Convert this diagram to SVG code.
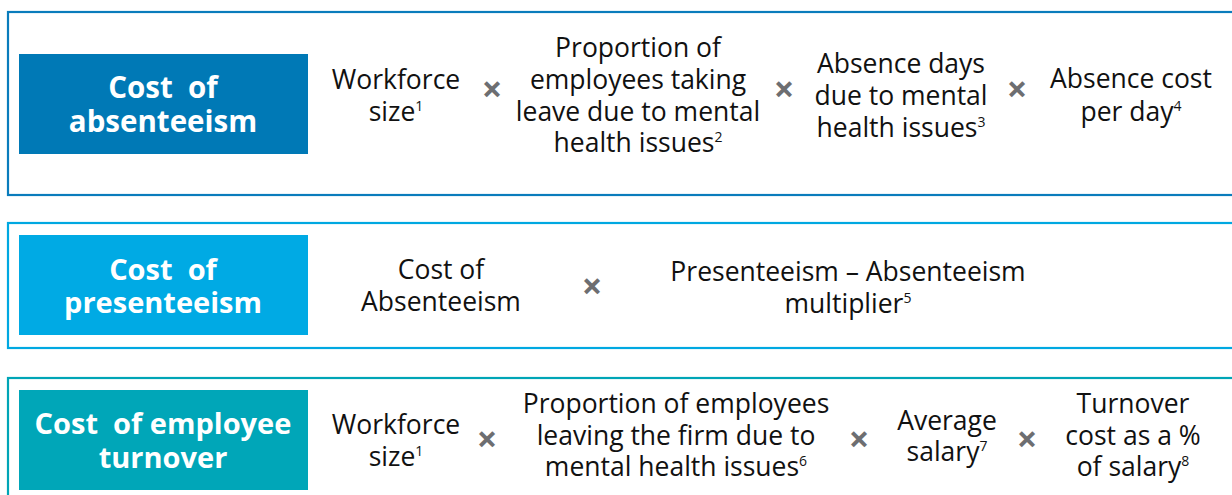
<svg xmlns="http://www.w3.org/2000/svg" width="1232" height="495" viewBox="0 0 1232 495">
<style>
.bg{fill:#ffffff}
.frame{fill:#ffffff;stroke-width:2.2}
.lbl{font-family:"Open Sans","Liberation Sans",sans-serif;font-weight:700;font-size:29.5px;fill:#ffffff;text-anchor:middle}
.lbl2{font-family:"Open Sans","Liberation Sans",sans-serif;font-weight:700;font-size:29px;fill:#ffffff;text-anchor:middle}
.t{font-family:"Open Sans","Liberation Sans",sans-serif;font-size:26.5px;fill:#111111;text-anchor:middle}
.tc{font-family:"Open Sans","Liberation Sans",sans-serif;font-size:26.5px;fill:#111111;text-anchor:middle}
.sup{font-size:14px}
.x{font-family:"Open Sans","Liberation Sans",sans-serif;font-weight:700;font-size:36px;fill:#6d6e71;text-anchor:middle}
</style>
<rect class="bg" x="0" y="0" width="1232" height="495"/>

<g id="absenteeism">
  <rect class="frame" x="8" y="12" width="1240" height="183" stroke="#0a7cbc"/>
  <rect x="19" y="54" width="289" height="100" fill="#0079b6"/>
  <text class="lbl" x="163" y="98" xml:space="preserve">Cost  of</text>
  <text class="lbl" x="163" y="132">absenteeism</text>
  <text class="t" x="396" y="89">Workforce</text>
  <text class="t" x="396" y="121">size<tspan class="sup" dy="-10">1</tspan></text>
  <text class="x" x="492" y="102">×</text>
  <text class="t" x="638" y="57">Proportion of</text>
  <text class="t" x="638" y="89">employees taking</text>
  <text class="t" x="638" y="121">leave due to mental</text>
  <text class="t" x="638" y="152">health issues<tspan class="sup" dy="-10">2</tspan></text>
  <text class="x" x="784" y="102">×</text>
  <text class="t" x="901" y="73">Absence days</text>
  <text class="t" x="901" y="105">due to mental</text>
  <text class="t" x="901" y="137">health issues<tspan class="sup" dy="-10">3</tspan></text>
  <text class="x" x="1017" y="102">×</text>
  <text class="t" x="1131" y="88">Absence cost</text>
  <text class="t" x="1131" y="121">per day<tspan class="sup" dy="-10">4</tspan></text>
</g>

<g id="presenteeism">
  <rect class="frame" x="8" y="223" width="1240" height="125" stroke="#00a8e1"/>
  <rect x="19" y="235" width="289" height="100" fill="#00aae4"/>
  <text class="lbl2" x="163" y="280" xml:space="preserve">Cost  of</text>
  <text class="lbl2" x="163" y="313">presenteeism</text>
  <text class="tc" x="441" y="279">Cost of</text>
  <text class="tc" x="441" y="311">Absenteeism</text>
  <text class="x" x="592" y="299">×</text>
  <text class="tc" x="848" y="281">Presenteeism – Absenteeism</text>
  <text class="tc" x="848" y="313">multiplier<tspan class="sup" dy="-10">5</tspan></text>
</g>

<g id="turnover">
  <rect class="frame" x="8" y="378" width="1240" height="130" stroke="#00a5b6"/>
  <rect x="19" y="390" width="289" height="100" fill="#00a6b8"/>
  <text class="lbl2" x="163" y="434" xml:space="preserve">Cost  of employee</text>
  <text class="lbl2" x="163" y="468">turnover</text>
  <text class="tc" x="396" y="434">Workforce</text>
  <text class="tc" x="396" y="466">size<tspan class="sup" dy="-10">1</tspan></text>
  <text class="x" x="487" y="452">×</text>
  <text class="tc" x="676" y="413">Proportion of employees</text>
  <text class="tc" x="676" y="445">leaving the firm due to</text>
  <text class="tc" x="676" y="476">mental health issues<tspan class="sup" dy="-10">6</tspan></text>
  <text class="x" x="859" y="452">×</text>
  <text class="tc" x="947" y="430">Average</text>
  <text class="tc" x="947" y="461">salary<tspan class="sup" dy="-10">7</tspan></text>
  <text class="x" x="1027" y="452">×</text>
  <text class="tc" x="1133" y="413">Turnover</text>
  <text class="tc" x="1133" y="445">cost as a %</text>
  <text class="tc" x="1133" y="476">of salary<tspan class="sup" dy="-10">8</tspan></text>
</g>
</svg>
